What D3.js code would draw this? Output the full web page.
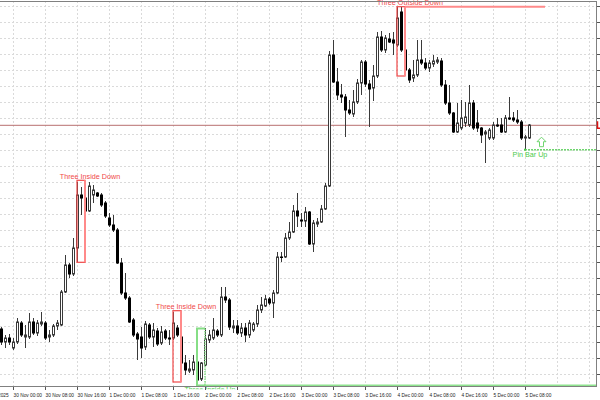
<!DOCTYPE html>
<html><head><meta charset="utf-8">
<script src="https://cdn.jsdelivr.net/npm/d3@7"></script>
<style>html,body{margin:0;padding:0;background:#fff;}svg{display:block;}</style>
</head><body>
<svg id="chart" width="600" height="400"></svg>
<script>
// ---- data (H1 candles, price in points) ----
const opens = [77,64,68,58,64,83,69,69,84,73,82,83,69,71,80,81,114,141,132,158,211,208,195,211,213,211,203,188,181,176,143,113,108,86,72,69,59,81,69,75,63,75,68,68,78,69,43,35,36,44,27,41,66,68,75,71,109,106,78,80,73,78,71,76,82,96,100,107,103,113,149,149,168,174,195,186,185,194,162,182,184,197,220,351,324,311,309,296,292,304,323,344,322,318,330,369,356,367,366,361,394,356,336,328,331,346,343,338,342,344,345,321,303,293,274,278,283,281,303,283,278,272,268,268,281,281,274,288,288,286,284,268,268];
const highs = [79,71,72,68,88,85,81,93,88,86,94,85,76,82,86,116,151,143,168,224,219,210,224,221,214,213,205,193,191,178,148,133,110,88,74,79,85,83,83,78,80,77,76,94,81,71,51,46,51,46,44,78,76,88,77,119,119,108,86,86,83,83,86,84,101,109,111,109,116,154,154,173,184,201,213,193,199,195,186,188,201,223,355,366,338,322,312,306,316,327,346,346,326,341,374,375,371,373,374,399,399,358,338,346,366,366,348,346,351,349,348,326,321,294,303,306,304,321,306,296,279,276,278,284,288,288,291,309,294,296,286,271,282];
const lows = [61,58,61,56,62,69,58,67,71,70,80,66,64,69,76,80,113,128,130,144,191,179,194,203,209,199,188,179,174,142,111,106,83,69,46,48,56,67,59,60,61,66,61,66,69,41,31,33,31,24,25,40,63,66,69,69,103,76,73,71,69,64,68,74,79,93,99,101,88,112,144,148,166,173,179,179,179,161,154,179,183,196,219,323,306,303,269,291,289,302,311,319,279,305,328,354,353,363,351,359,354,330,323,324,329,341,336,334,339,342,319,301,291,273,273,276,279,279,276,274,263,243,266,266,279,273,273,286,284,282,266,256,267];
const closes = [64,68,64,64,84,71,71,84,73,83,84,68,71,80,83,114,141,132,158,211,208,195,220,216,210,201,190,181,176,143,113,108,84,71,67,58,82,69,76,62,74,68,67,83,71,43,36,37,44,26,43,67,71,76,71,109,106,79,80,73,78,71,83,82,96,101,107,103,113,149,148.5,168,174,195,190,185,194,162,183,184,197,220,351,324,311,309,296,293,304,323,344,322,317,330,369,356,368,364,363,388,356,336,326,331,346,343,338,343,345,346,321,303,293,274,283,288,289,303,278,278,271,274,276,281,280,274,288,287,286,284,268,269,281];

const timeLabels = ["29 Nov 2025","30 Nov 00:00","30 Nov 08:00","30 Nov 16:00","1 Dec 00:00","1 Dec 08:00","1 Dec 16:00","2 Dec 00:00","2 Dec 08:00","2 Dec 16:00","3 Dec 00:00","3 Dec 08:00","3 Dec 16:00","4 Dec 00:00","4 Dec 08:00","4 Dec 16:00","5 Dec 00:00","5 Dec 08:00"];
const timeLabelBars = [-5,3,11,19,27,35,43,51,59,67,75,83,91,99,107,115,123,131];
const gridBars = [3,11,19,27,35,43,51,59,67,75,83,91,99,107,115,123,131,139,147];
const priceLevels = [32,48,64,80,96,112,128,144,160,176,192,208,224,240,256,272,288,304,320,336,352,368,384,400];
const bidPrice = 280.7;

const patternNames = ["Three Inside Down","Three Inside Down","Three Inside Up","Three Outside Down"];
const patternStart = [19,43,49,99];
const patternEnd   = [21,45,51,101];
const patternTop   = [225.7,95.3,77.5,399.3];
const patternBottom= [143.7,24,20.5,330];
const patternBull  = [false,false,true,false];
const patternExtendTo = [null,null,"edge",136];

const pinBarName = "Pin Bar Up";
const pinBarIndex = 131;
const pinBarLevel = 256.3;
const pinBarArrowIndex = 135;

// ---- layout ----
const W = 600, H = 400;
const plot = {left:0, right:596, top:1, bottom:386};
const svg = d3.select("#chart");
const x = d3.scaleLinear().domain([0,132]).range([1,529]);
const y = d3.scaleLinear().domain([20,405]).range([386,1]);

const defs = svg.append("defs");
defs.append("clipPath").attr("id","plotclip").append("rect")
  .attr("x",plot.left).attr("y",plot.top).attr("width",plot.right-plot.left).attr("height",plot.bottom-plot.top);
defs.append("clipPath").attr("id","labelclip").append("rect")
  .attr("x",0).attr("y",0).attr("width",plot.right).attr("height",389.5);

svg.append("rect").attr("width",W).attr("height",H).attr("fill","#fff");

const g = svg.append("g").attr("clip-path","url(#plotclip)");

// grid
g.selectAll(".hg").data(priceLevels).join("line")
  .attr("x1",plot.left).attr("x2",plot.right)
  .attr("y1",d=>Math.round(y(d))+0.5).attr("y2",d=>Math.round(y(d))+0.5)
  .attr("stroke","#dadada").attr("stroke-dasharray","2,2").attr("stroke-width",1);
g.selectAll(".vg").data(gridBars).join("line")
  .attr("x1",d=>x(d)+0.5).attr("x2",d=>x(d)+0.5)
  .attr("y1",plot.top).attr("y2",plot.bottom)
  .attr("stroke","#dadada").attr("stroke-dasharray","2,2").attr("stroke-width",1);

// bid line
g.append("line").attr("x1",plot.left).attr("x2",plot.right)
  .attr("y1",y(bidPrice)).attr("y2",y(bidPrice))
  .attr("stroke","#b87070").attr("stroke-width",1);

// candles
const idx = d3.range(opens.length);
const cg = g.append("g");
cg.selectAll(".wick").data(idx).join("line")
  .attr("x1",i=>x(i)+0.5).attr("x2",i=>x(i)+0.5)
  .attr("y1",i=>y(highs[i])).attr("y2",i=>y(lows[i]))
  .attr("stroke","#3a3a3a").attr("stroke-width",1);
cg.selectAll(".body").data(idx).join("rect")
  .attr("x",i=>x(i)-0.5).attr("width",2)
  .attr("y",i=>y(Math.max(opens[i],closes[i])))
  .attr("height",i=>Math.max(0.01,Math.abs(y(opens[i])-y(closes[i]))))
  .attr("fill",i=>closes[i]>=opens[i]?"#fff":"#000")
  .attr("stroke",i=>closes[i]>=opens[i]?"#3a3a3a":"#000")
  .attr("stroke-width",1);

// patterns
const red="#f04848", redLight="#ff8a8a", green="#86de86", greenText="#4ccb4c";
const pg = svg.append("g");
patternNames.forEach((name,i)=>{
  const bull = patternBull[i];
  const x0 = x(patternStart[i]), x1 = x(patternEnd[i]);
  const yt = y(patternTop[i]), yb = y(patternBottom[i]);
  if (bull){
    pg.append("path").attr("d",`M${x1},${yt} H${x0} V${yb} H${x1}`)
      .attr("fill","none").attr("stroke",green).attr("stroke-width",2);
    pg.append("line").attr("x1",x1).attr("x2",x1).attr("y1",yt).attr("y2",yb)
      .attr("stroke",green).attr("stroke-width",1.5).attr("stroke-dasharray","1.5,1");
  } else {
    pg.append("rect").attr("x",x0).attr("y",yt).attr("width",x1-x0).attr("height",yb-yt)
      .attr("fill","none").attr("stroke",red).attr("stroke-width",1.2);
    pg.append("line").attr("x1",x1).attr("x2",x1).attr("y1",yt).attr("y2",yb)
      .attr("stroke",redLight).attr("stroke-width",2);
  }
  if (patternExtendTo[i]!==null){
    const xe = patternExtendTo[i]==="edge"?plot.right:x(patternExtendTo[i]);
    const ye = bull?yb:yt;
    pg.append("line").attr("x1",x1).attr("x2",xe).attr("y1",ye).attr("y2",ye)
      .attr("stroke",bull?"#8fe38f":redLight).attr("stroke-width",2);
  }
  const tx = x(patternStart[i]+1)+9;
  const ty = bull? yb+6.5 : yt-1.5;
  pg.append("text").attr("x",tx).attr("y",ty).attr("text-anchor","middle")
    .attr("font-family","Liberation Sans, Arial, sans-serif").attr("font-size",7.2)
    .attr("fill",bull?greenText:red)
    .attr("clip-path",bull?"url(#labelclip)":null)
    .text(name);
});

// pin bar
const py = y(pinBarLevel);
pg.append("line").attr("x1",x(pinBarIndex)).attr("x2",plot.right).attr("y1",py).attr("y2",py)
  .attr("stroke","#6fd66f").attr("stroke-width",1.5).attr("stroke-dasharray","2,1");
pg.append("rect").attr("x",x(pinBarIndex)-1).attr("y",py-1).attr("width",2).attr("height",2).attr("fill","#4ccb4c");
const ax = x(pinBarArrowIndex)+0.5;
pg.append("path")
  .attr("d",`M${ax},${py-12.5} L${ax+4.5},${py-8} L${ax+2},${py-8} L${ax+2},${py-3} L${ax-2},${py-3} L${ax-2},${py-8} L${ax-4.5},${py-8} Z`)
  .attr("fill","#fff").attr("stroke","#6fd66f").attr("stroke-width",1);
pg.append("text").attr("x",x(pinBarIndex)+5).attr("y",py+7.3).attr("text-anchor","middle")
  .attr("font-family","Liberation Sans, Arial, sans-serif").attr("font-size",7.2)
  .attr("fill",greenText).text(pinBarName);

// frame
const frame = svg.append("g");
frame.append("line").attr("x1",0).attr("x2",plot.right+0.5).attr("y1",plot.top+0.5).attr("y2",plot.top+0.5).attr("stroke","#808080");
frame.append("line").attr("x1",0).attr("x2",plot.right+0.5).attr("y1",plot.bottom+0.5).attr("y2",plot.bottom+0.5).attr("stroke","#808080");
frame.append("line").attr("x1",plot.right+0.5).attr("x2",plot.right+0.5).attr("y1",plot.top).attr("y2",plot.bottom+1).attr("stroke","#808080");

// right axis ticks
frame.selectAll(".rt").data(priceLevels).join("line")
  .attr("x1",plot.right+1).attr("x2",plot.right+4)
  .attr("y1",d=>Math.round(y(d))+0.5).attr("y2",d=>Math.round(y(d))+0.5)
  .attr("stroke","#555");
// bid marker (clipped price tag)
frame.append("path").attr("d",`M${plot.right+1.5},${y(bidPrice)-4} V${y(bidPrice)+3} H600`)
  .attr("fill","none").attr("stroke","#e01010").attr("stroke-width",1.5);

// bottom axis
const xa = svg.append("g");
xa.append("rect").attr("x",0).attr("y",389.5).attr("width",W).attr("height",10.5).attr("fill","#fff");
timeLabelBars.forEach((b,i)=>{
  const tx = x(b);
  xa.append("line").attr("x1",tx+0.5).attr("x2",tx+0.5).attr("y1",plot.bottom+1).attr("y2",plot.bottom+4).attr("stroke","#555");
  xa.append("text").attr("x",tx+0.5).attr("y",396.5)
    .attr("font-family","Liberation Sans, Arial, sans-serif").attr("font-size",4.8)
    .attr("fill","#222").text(timeLabels[i]);
});
</script>
</body></html>
